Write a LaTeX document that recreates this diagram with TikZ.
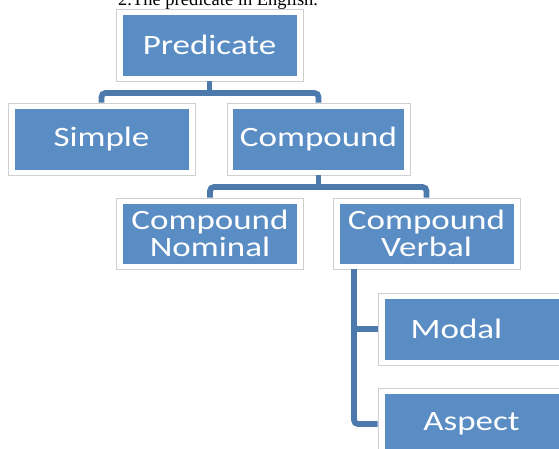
\documentclass[tikz,border=0pt]{standalone}
\usepackage{fontspec}
\newfontfamily\boxfont[FakeStretch=1.25]{Carlito}
\newfontfamily\topfont{Liberation Serif}
\definecolor{boxblue}{HTML}{5B8DC5}
\definecolor{connblue}{HTML}{4D7AAD}
\definecolor{rimgrey}{HTML}{CFCFCF}
\begin{document}
\begin{tikzpicture}[x=1pt,y=-1pt,
  outerbox/.style={draw=rimgrey,line width=0.8pt,fill=white,minimum width=187pt,minimum height=72pt,inner sep=0pt},
  innerbox/.style={fill=boxblue,minimum width=174pt,minimum height=61pt,inner sep=0pt,text=white,align=center,
     font=\boxfont\fontsize{28}{27}\selectfont},
  conn/.style={draw=connblue,line width=5.8pt,rounded corners=4pt}]
\useasboundingbox (0,0) rectangle (559,448);
\clip (0,0) rectangle (559,448);
\node[anchor=base west,inner sep=0pt,font=\topfont\fontsize{18.5}{20}\selectfont] (title) at (118,5) {2.The predicate in English.};
% boxes
\node[outerbox] (pred) at (209.5,45) {};
\node[innerbox] (pred-in) at (pred) {Predicate};
\node[outerbox] (simple) at (101.5,139) {};
\node[innerbox] (simple-in) at (simple) {Simple};
\node[outerbox,minimum width=183pt] (comp) at (318.5,139) {};
\node[innerbox,minimum width=171pt] (comp-in) at (comp) {Compound};
\node[outerbox,minimum height=71pt] (cn) at (210,233.5) {};
\node[innerbox,minimum height=60pt] (cn-in) at (cn) {Compound\\Nominal};
\node[outerbox,minimum height=71pt] (cv) at (426.5,233.5) {};
\node[innerbox,minimum height=60pt] (cv-in) at (cv) {Compound\\Verbal};
\node[outerbox] (modal) at (471.5,329) {};
\node[innerbox] (modal-in) at (modal) {Modal\hspace*{30pt}};
\node[outerbox] (aspect) at (471.5,424) {};
\node[innerbox] (aspect-in) at (aspect) {Aspect};
% connectors
\coordinate (b1) at (209.5,93);
\draw[conn] (pred.south) -- (b1);
\draw[conn] (simple.north) |- (b1) -| (comp.north);
\coordinate (b2) at (318.5,187);
\draw[conn] (comp.south) -- (b2);
\draw[conn] (cn.north) |- (b2) -| (cv.north);
\coordinate (v) at (354,269);
\draw[conn] (v) |- (aspect.west);
\draw[conn] (v |- modal.west) -- (modal.west);
\end{tikzpicture}
\end{document}
